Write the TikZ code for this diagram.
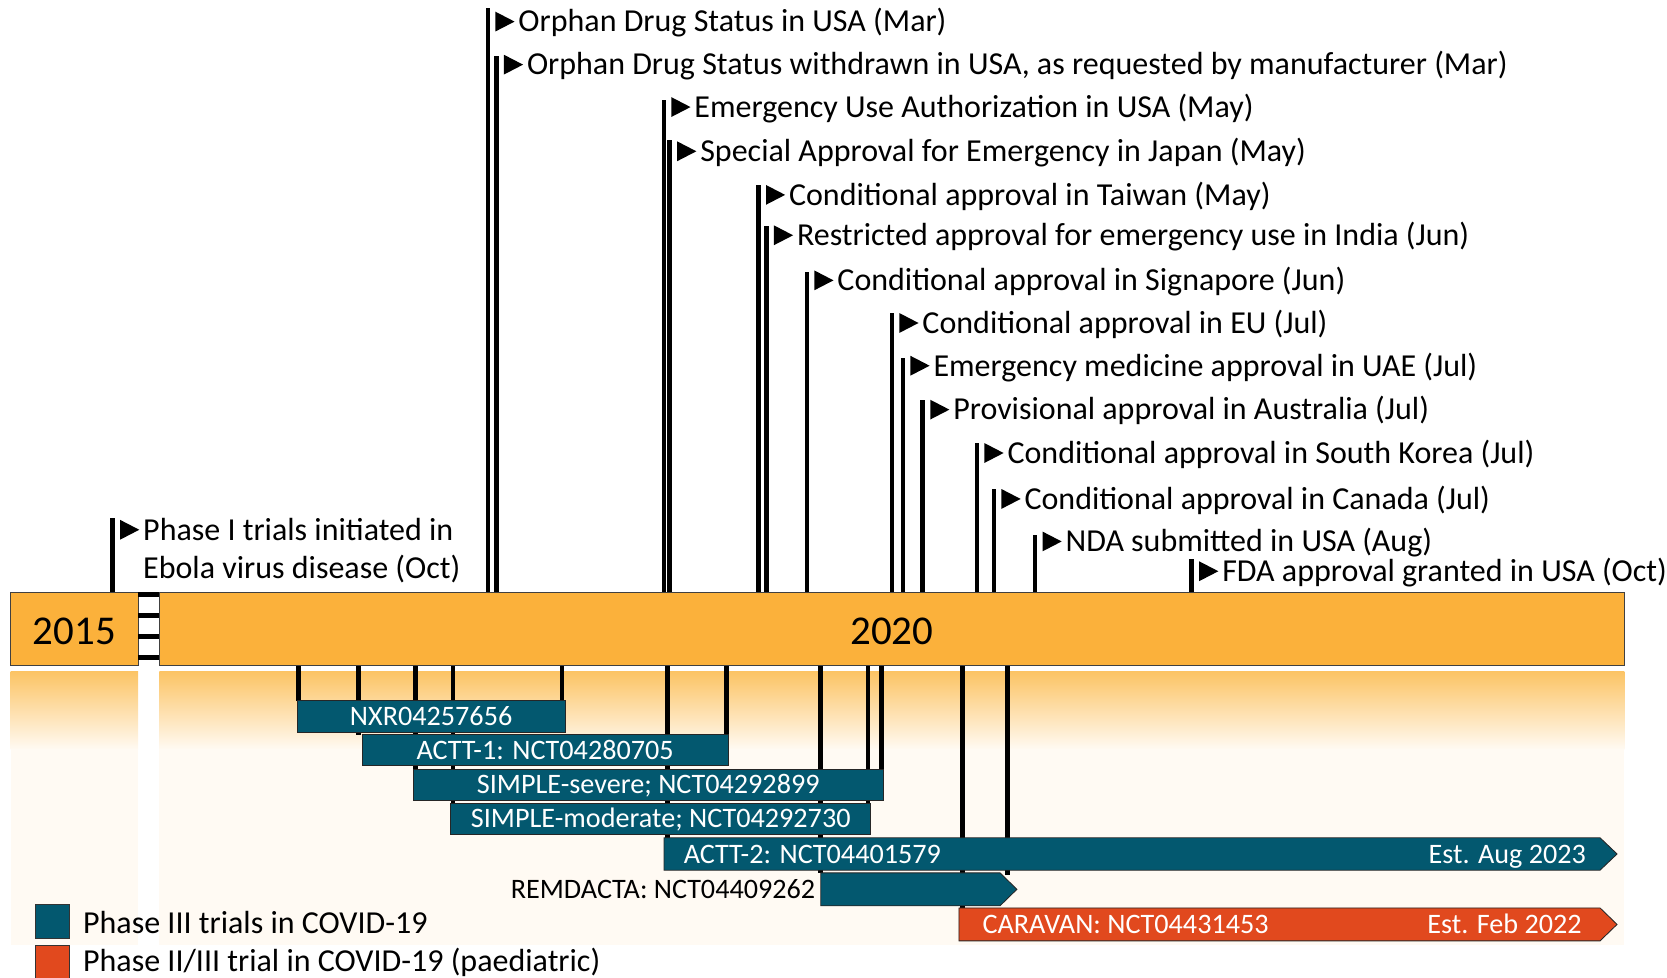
\documentclass[tikz,border=0pt]{standalone}
\usepackage{fontspec}
\setmainfont{Carlito}
\definecolor{barorange}{HTML}{FBB13B}
\definecolor{gradtop}{HTML}{FCC465}
\definecolor{cream}{HTML}{FFFAF3}
\definecolor{teal3}{HTML}{03586F}
\definecolor{redor}{HTML}{E1491E}
\tikzset{
  evline/.style={line width=4.5pt, black},
  evtext/.style={anchor=base west, inner sep=0pt, font=\fontsize{30.1}{36}\selectfont},
  bartext/.style={inner sep=0pt, text=white, font=\fontsize{26.5}{31}\selectfont},
  trialbox/.style={fill=teal3, draw=black!85, line width=0.8pt, inner sep=0pt, text=white,
    font=\fontsize{26.5}{31}\selectfont, text height=17pt, text depth=0pt},
  trial/.style={fill=teal3, draw=black!85, line width=0.8pt},
  trialred/.style={fill=redor, draw=black!85, line width=0.8pt},
  yearbox/.style={fill=barorange, draw=black!75, line width=0.8pt},
  yeartext/.style={anchor=base, inner sep=0pt, font=\fontsize{38.5}{46}\selectfont},
  legtext/.style={anchor=base west, inner sep=0pt, font=\fontsize{30.1}{36}\selectfont},
}
\newcommand\evtflag[5]{%
  \draw[evline] (#1,557) -- (#1,#2);
  \fill ({#1+7},{#3-19}) -- ({#1+25},{#3-9.7}) -- ({#1+7},{#3-0.4}) -- cycle;
  \node[evtext] (#4) at ({#1+28.5},#3) {#5};
}
\newcommand\trialline[2]{\draw[evline] (#1,625.5) -- (#1,#2);}
\begin{document}
\begin{tikzpicture}[x=1pt,y=-1pt]
\useasboundingbox (0,0) rectangle (1568,919);
% background bands below the time bar
\shade[top color=gradtop, bottom color=cream] (10,632) rectangle (130,705);
\fill[cream] (10,704.5) rectangle (130,889);
\shade[top color=gradtop, bottom color=cream] (150,632) rectangle (1528,705);
\fill[cream] (150,704.5) rectangle (1528,889);

% lines from the bar to the trials
\trialline{281}{659}
\trialline{337.5}{691}
\trialline{391}{723.5}
\trialline{426}{755.5}
\trialline{528.6}{659}
\trialline{627.6}{788}
\trialline{683}{691}
\trialline{772}{821}
\trialline{816.5}{755.5}
\trialline{829}{723.5}
\trialline{905.6}{854}
\trialline{948}{823}

% trial bars
\node[trialbox, minimum width=252pt, minimum height=29.5pt] (nxr) at (405.5,673.75) {NXR04257656};
\node[trialbox, minimum width=344.5pt, minimum height=29pt] (actt1) at (512.75,705.5) {ACTT-1: NCT04280705};
\node[trialbox, minimum width=442.5pt, minimum height=29pt] (ssev) at (609.75,738) {SIMPLE-severe; NCT04292899};
\node[trialbox, minimum width=395pt, minimum height=29pt] (smod) at (621.5,770) {SIMPLE-moderate; NCT04292730};

\draw[trial] (624.6,788) -- (1505,788) -- (1521,803.25) -- (1505,818.5) -- (624.6,818.5) -- cycle;
\node[bartext, anchor=base west] (actt2) at (643,811.8) {ACTT-2: NCT04401579};
\node[bartext, anchor=base east] (actt2e) at (1492,811.8) {Est. Aug 2023};

\draw[trial] (772,821) -- (940.6,821) -- (956.5,836.5) -- (940.6,852) -- (772,852) -- cycle;
\node[anchor=base east, inner sep=0pt, font=\fontsize{26.5}{31}\selectfont] (remd) at (767,845.2) {REMDACTA: NCT04409262};

\draw[trialred] (902,854) -- (1505,854) -- (1521,869.5) -- (1505,885) -- (902,885) -- cycle;
\node[bartext, anchor=base west] (carav) at (924,878.2) {CARAVAN: NCT04431453};
\node[bartext, anchor=base east] (carave) at (1488,878.2) {Est. Feb 2022};

% top event flags
\evtflag{106}{487}{508}{ph1}{Phase I trials initiated in}
\node[evtext] (ph1b) at (134.5,544) {Ebola virus disease (Oct)};
\evtflag{459}{7.8}{30}{orph}{Orphan Drug Status in USA (Mar)}
\evtflag{467}{53}{70.5}{orphw}{Orphan Drug Status withdrawn in USA, as requested by manufacturer (Mar)}
\evtflag{624.5}{94}{110.4}{eua}{Emergency Use Authorization in USA (May)}
\evtflag{630}{132}{152}{jpn}{Special Approval for Emergency in Japan (May)}
\evtflag{713.5}{174}{193}{twn}{Conditional approval in Taiwan (May)}
\evtflag{721}{213}{231}{ind}{Restricted approval for emergency use in India (Jun)}
\evtflag{759}{256}{273.4}{sgp}{Conditional approval in Signapore (Jun)}
\evtflag{839}{294.6}{313.5}{eu}{Conditional approval in EU (Jul)}
\evtflag{849.4}{337}{353.7}{uae}{Emergency medicine approval in UAE (Jul)}
\evtflag{868}{376}{395}{aus}{Provisional approval in Australia (Jul)}
\evtflag{919}{417}{435.8}{kor}{Conditional approval in South Korea (Jul)}
\evtflag{935}{460}{479}{can}{Conditional approval in Canada (Jul)}
\evtflag{973.6}{503}{519}{nda}{NDA submitted in USA (Aug)}
\evtflag{1121}{526}{547}{fda}{FDA approval granted in USA (Oct)}

% time bar
\draw[yearbox] (10,557) rectangle (130,625.5);
\draw[yearbox] (150,557) rectangle (1528,625.5);
\foreach \yy in {557,576.7,596.4,616.1}
  \fill[black] (130,\yy) rectangle (150,{\yy+4.4});
\node[yeartext] (y2015) at (70,606.5) {2015};
\node[yeartext] (y2020) at (839,606.5) {2020};

% legend
\node[draw=black!80, line width=0.8pt, fill=teal3, minimum width=32pt, minimum height=32pt, inner sep=0pt] (lg1) at (49,867) {};
\node[draw=black!80, line width=0.8pt, fill=redor, minimum width=32pt, minimum height=32pt, inner sep=0pt] (lg2) at (49,905) {};
\node[legtext] (lg1t) at (78,878) {Phase III trials in COVID-19};
\node[legtext] (lg2t) at (78,914) {Phase II/III trial in COVID-19 (paediatric)};
\end{tikzpicture}
\end{document}
